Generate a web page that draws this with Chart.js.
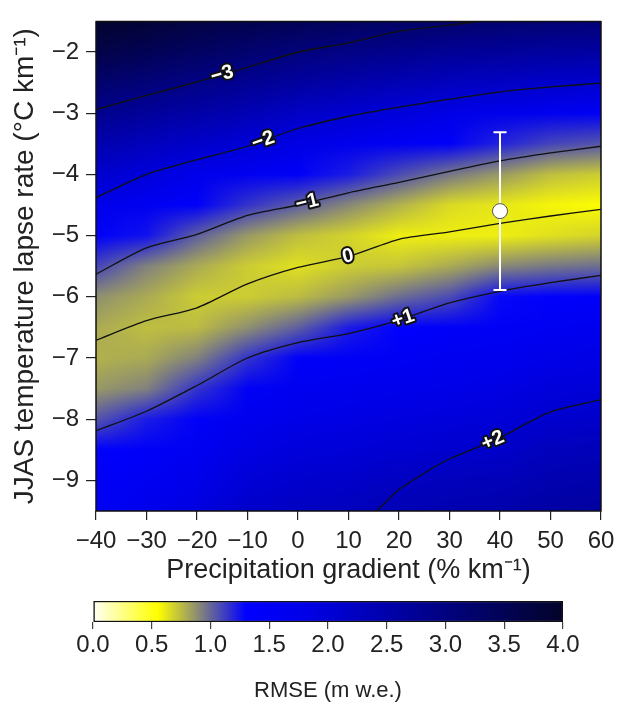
<!DOCTYPE html>
<html>
<head>
<meta charset="utf-8">
<script src="https://cdn.jsdelivr.net/npm/chart.js@4.4.1/dist/chart.umd.min.js"></script>
<style>
  body { margin: 0; background: #fff; }
  #wrap { position: relative; width: 622px; height: 704px; }
  canvas { position: absolute; left: 0; }
</style>
</head>
<body>
<div id="wrap">
  <canvas id="grafico" width="622" height="590" style="top:0"></canvas>
  <canvas id="barra" width="622" height="114" style="top:590px"></canvas>
</div>
<script>
// grade do RMSE: colunas = gradiente de precipitação, linhas = lapse rate
const gradX = [-40, -30, -20, -10, 0, 10, 20, 30, 40, 50, 60];
const lapseY = [-1.5, -2, -2.5, -3, -3.5, -4, -4.5, -5, -5.5, -6, -6.5, -7, -7.5, -8, -8.5, -9, -9.5];

// RMSE (m w.e.), uma linha por valor de lapseY
const rmse = [
  [3.95, 3.85, 3.70, 3.60, 3.50, 3.40, 3.30, 3.25, 3.20, 3.15, 3.10],
  [3.65, 3.50, 3.35, 3.20, 3.05, 2.95, 2.85, 2.75, 2.70, 2.65, 2.60],
  [3.25, 3.10, 2.95, 2.80, 2.65, 2.52, 2.40, 2.30, 2.22, 2.15, 2.10],
  [2.85, 2.70, 2.55, 2.40, 2.20, 2.08, 1.95, 1.82, 1.72, 1.62, 1.55],
  [2.50, 2.30, 2.15, 2.00, 1.85, 1.70, 1.55, 1.42, 1.20, 1.10, 1.05],
  [2.10, 1.95, 1.75, 1.60, 1.45, 1.22, 1.08, 0.95, 0.85, 0.74, 0.70],
  [1.75, 1.60, 1.40, 1.15, 1.03, 0.90, 0.78, 0.66, 0.62, 0.58, 0.56],
  [1.40, 1.25, 1.02, 0.85, 0.74, 0.68, 0.60, 0.60, 0.60, 0.64, 0.68],
  [1.10, 0.92, 0.80, 0.70, 0.64, 0.70, 0.72, 0.80, 0.90, 0.95, 0.98],
  [0.88, 0.80, 0.70, 0.70, 0.75, 0.85, 0.98, 1.08, 1.28, 1.35, 1.40],
  [0.80, 0.74, 0.75, 0.88, 1.02, 1.22, 1.32, 1.42, 1.50, 1.58, 1.65],
  [0.78, 0.80, 0.92, 1.15, 1.40, 1.48, 1.55, 1.62, 1.68, 1.78, 1.85],
  [0.85, 0.92, 1.15, 1.50, 1.62, 1.68, 1.73, 1.80, 1.85, 1.95, 2.00],
  [1.05, 1.22, 1.45, 1.68, 1.80, 1.85, 1.90, 1.95, 2.00, 2.10, 2.15],
  [1.30, 1.42, 1.60, 1.85, 1.95, 2.00, 2.05, 2.10, 2.15, 2.30, 2.35],
  [1.45, 1.58, 1.75, 2.00, 2.10, 2.15, 2.25, 2.30, 2.35, 2.45, 2.50],
  [1.55, 1.70, 1.90, 2.15, 2.25, 2.30, 2.40, 2.45, 2.50, 2.60, 2.65]
];

// isolinhas do viés (m w.e.)
const contornoM3X = [-40, -30, -20, -10, 0, 10, 20, 30, 36];
const contornoM3Y = [-2.94, -2.71, -2.49, -2.25, -2.0, -1.85, -1.66, -1.56, -1.5];
const contornoM2X = [-40, -30, -20, -10, 0, 10, 20, 30, 40, 50, 60];
const contornoM2Y = [-4.38, -4.0, -3.76, -3.54, -3.25, -3.05, -2.9, -2.77, -2.65, -2.57, -2.51];
const contornoM1X = [-40, -30, -20, -10, 0, 10, 20, 30, 40, 50, 60];
const contornoM1Y = [-5.63, -5.2, -4.98, -4.67, -4.5, -4.3, -4.13, -3.95, -3.78, -3.65, -3.54];
const contorno0X = [-40, -30, -20, -10, 0, 10, 20, 30, 40, 50, 60];
const contorno0Y = [-6.71, -6.39, -6.18, -5.79, -5.52, -5.34, -5.06, -4.94, -4.8, -4.68, -4.57];
const contornoP1X = [-40, -30, -20, -10, 0, 10, 20, 30, 40, 50, 60];
const contornoP1Y = [-8.19, -7.87, -7.45, -7.0, -6.75, -6.6, -6.38, -6.1, -5.91, -5.77, -5.65];
const contornoP2X = [15.6, 20, 26.8, 30, 40, 50, 60];
const contornoP2Y = [-9.5, -9.15, -8.79, -8.65, -8.3, -7.88, -7.68];

// rótulos das isolinhas
const rotuloTexto = ['\u22123', '\u22122', '\u22121', '0', '+1', '+2'];
const rotuloX = [-15, -6.9, 1.8, 9.9, 20.8, 38.6];
const rotuloY = [-2.37, -3.45, -4.46, -5.34, -6.36, -8.35];

// ponto observado com barra de erro
const obsX = 40;
const obsY = -4.6;
const erroTopo = -3.31;
const erroBase = -5.89;

// eixos
const ticksX = [-40, -30, -20, -10, 0, 10, 20, 30, 40, 50, 60];
const ticksY = [-9, -8, -7, -6, -5, -4, -3, -2];
const ticksBarra = [0, 0.5, 1, 1.5, 2, 2.5, 3, 3.5, 4];

// paleta de cores do RMSE
const paletaValor = [0, 0.55, 1.3, 1.8, 4.0];
const paletaCor = [[255, 255, 245], [255, 255, 0], [0, 0, 255], [0, 0, 232], [3, 3, 42]];

const fonte = '"Liberation Sans", Arial, Helvetica, sans-serif';
const corTexto = '#222';

function corDe(v) {
  if (v <= paletaValor[0]) return paletaCor[0];
  for (let i = 1; i < paletaValor.length; i++) {
    if (v <= paletaValor[i]) {
      const t = (v - paletaValor[i - 1]) / (paletaValor[i] - paletaValor[i - 1]);
      const a = paletaCor[i - 1], b = paletaCor[i];
      return [0, 1, 2].map(k => Math.round(a[k] + (b[k] - a[k]) * t));
    }
  }
  return paletaCor[paletaCor.length - 1];
}

function menos(v) {
  return v < 0 ? '\u2212' + Math.abs(v) : String(v);
}

// desenha a grade de RMSE por baixo das isolinhas
const mapaCalor = {
  id: 'mapaCalor',
  beforeDatasetsDraw(chart) {
    const { ctx, chartArea, scales: { x, y } } = chart;
    const off = document.createElement('canvas');
    off.width = gradX.length;
    off.height = lapseY.length;
    const octx = off.getContext('2d');
    const img = octx.createImageData(off.width, off.height);
    rmse.forEach((linha, j) => linha.forEach((v, i) => {
      const c = corDe(v);
      const k = (j * off.width + i) * 4;
      img.data[k] = c[0];
      img.data[k + 1] = c[1];
      img.data[k + 2] = c[2];
      img.data[k + 3] = 255;
    }));
    octx.putImageData(img, 0, 0);

    const dx = (gradX[1] - gradX[0]) / 2;
    const dy = (lapseY[0] - lapseY[1]) / 2;
    const x0 = x.getPixelForValue(gradX[0] - dx);
    const x1 = x.getPixelForValue(gradX[gradX.length - 1] + dx);
    const y0 = y.getPixelForValue(lapseY[0] + dy);
    const y1 = y.getPixelForValue(lapseY[lapseY.length - 1] - dy);

    ctx.save();
    ctx.beginPath();
    ctx.rect(chartArea.left, chartArea.top, chartArea.width, chartArea.height);
    ctx.clip();
    ctx.imageSmoothingEnabled = true;
    ctx.imageSmoothingQuality = 'medium';
    ctx.drawImage(off, x0, y0, x1 - x0, y1 - y0);
    ctx.restore();
  }
};

const contornos = [
  [contornoM3X, contornoM3Y], [contornoM2X, contornoM2Y], [contornoM1X, contornoM1Y],
  [contorno0X, contorno0Y], [contornoP1X, contornoP1Y], [contornoP2X, contornoP2Y]
];

// rótulos das isolinhas e moldura
const rotulos = {
  id: 'rotulos',
  afterDatasetsDraw(chart) {
    const { ctx, chartArea, scales: { x, y } } = chart;
    ctx.save();
    ctx.font = 'bold 20px ' + fonte;
    ctx.textAlign = 'center';
    ctx.textBaseline = 'middle';
    ctx.lineJoin = 'round';
    rotuloTexto.forEach((t, k) => {
      const [cx, cy] = contornos[k];
      let i = cx.findIndex(v => v >= rotuloX[k]);
      if (i < 1) i = 1;
      const ang = Math.atan2(
        y.getPixelForValue(cy[i]) - y.getPixelForValue(cy[i - 1]),
        x.getPixelForValue(cx[i]) - x.getPixelForValue(cx[i - 1])
      );
      ctx.save();
      ctx.translate(x.getPixelForValue(rotuloX[k]), y.getPixelForValue(rotuloY[k]));
      ctx.rotate(ang);
      ctx.lineWidth = 4;
      ctx.strokeStyle = '#111';
      ctx.strokeText(t, 0, 0);
      ctx.fillStyle = '#fff';
      ctx.fillText(t, 0, 0);
      ctx.restore();
    });
    ctx.strokeStyle = '#111';
    ctx.lineWidth = 1.5;
    ctx.strokeRect(chartArea.left, chartArea.top, chartArea.width, chartArea.height);
    ctx.restore();
  }
};

const datasetsContorno = contornos.map(([cx, cy], k) => ({
  label: rotuloTexto[k],
  data: cx.map((v, i) => ({ x: v, y: cy[i] })),
  showLine: true,
  borderColor: '#111',
  borderWidth: 1.3,
  pointRadius: 0,
  tension: 0.25,
  order: 2
}));

new Chart(document.getElementById('grafico'), {
  type: 'scatter',
  data: {
    datasets: [
      {
        label: 'observado',
        data: [{ x: obsX, y: obsY }],
        pointRadius: 7.5,
        pointBackgroundColor: '#fff',
        pointBorderColor: '#555',
        pointBorderWidth: 1,
        order: 0
      },
      {
        label: 'erro',
        data: [{ x: obsX, y: erroTopo }, { x: obsX, y: erroBase }],
        showLine: true,
        borderColor: '#fff',
        borderWidth: 2,
        pointStyle: 'line',
        pointRadius: 6.5,
        pointBorderColor: '#fff',
        pointBorderWidth: 2,
        order: 1
      },
      ...datasetsContorno
    ]
  },
  options: {
    responsive: false,
    animation: false,
    events: [],
    layout: { padding: { top: 13, right: 21, left: 0, bottom: 0 } },
    plugins: { legend: { display: false }, tooltip: { enabled: false } },
    scales: {
      x: {
        type: 'linear',
        min: -40,
        max: 60,
        afterBuildTicks: s => { s.ticks = ticksX.map(v => ({ value: v })); },
        afterFit: s => { s.height = 79; },
        ticks: { callback: v => menos(v), font: { family: fonte, size: 24 }, color: corTexto, padding: 7, maxRotation: 0, autoSkip: false },
        grid: { drawOnChartArea: false, drawTicks: true, tickLength: 9, color: '#222', lineWidth: 1.2 },
        border: { display: false },
        title: { display: true, text: 'Precipitation gradient (% km\u207B\u00B9)', font: { family: fonte, size: 27 }, color: corTexto, padding: { top: 0, bottom: 3 } }
      },
      y: {
        type: 'linear',
        min: -9.5,
        max: -1.5,
        afterBuildTicks: s => { s.ticks = ticksY.map(v => ({ value: v })); },
        afterFit: s => { s.width = 96; },
        ticks: { callback: v => menos(v), font: { family: fonte, size: 24 }, color: corTexto, padding: 7, autoSkip: false },
        grid: { drawOnChartArea: false, drawTicks: true, tickLength: 10, color: '#222', lineWidth: 1.2 },
        border: { display: false },
        title: { display: true, text: 'JJAS temperature lapse rate (\u00B0C km\u207B\u00B9)', font: { family: fonte, size: 28 }, color: corTexto, padding: { top: 8, bottom: 0 } }
      }
    }
  },
  plugins: [mapaCalor, rotulos]
});

// barra de cores
new Chart(document.getElementById('barra'), {
  type: 'bar',
  data: {
    labels: ['RMSE'],
    datasets: [{
      data: [[ticksBarra[0], ticksBarra[ticksBarra.length - 1]]],
      backgroundColor: c => {
        const ch = c.chart;
        if (!ch.chartArea) return '#00f';
        const sx = ch.scales.x;
        const a = ticksBarra[0], b = ticksBarra[ticksBarra.length - 1];
        const g = ch.ctx.createLinearGradient(sx.getPixelForValue(a), 0, sx.getPixelForValue(b), 0);
        paletaValor.forEach((v, i) => g.addColorStop((v - a) / (b - a), 'rgb(' + paletaCor[i].join(',') + ')'));
        return g;
      },
      borderColor: '#111',
      borderWidth: 1.5,
      borderSkipped: false,
      barPercentage: 1,
      categoryPercentage: 1
    }]
  },
  options: {
    indexAxis: 'y',
    responsive: false,
    animation: false,
    events: [],
    layout: { padding: { top: 11, left: 93, right: 59, bottom: 0 } },
    plugins: { legend: { display: false }, tooltip: { enabled: false } },
    scales: {
      x: {
        type: 'linear',
        min: 0,
        max: 4,
        afterBuildTicks: s => { s.ticks = ticksBarra.map(v => ({ value: v })); },
        afterFit: s => { s.height = 82; },
        ticks: { callback: v => v.toFixed(1), font: { family: fonte, size: 24 }, color: corTexto, padding: 2, maxRotation: 0, autoSkip: false },
        grid: { drawOnChartArea: false, drawTicks: true, tickLength: 7, color: '#444', lineWidth: 1.2 },
        border: { display: false },
        title: { display: true, text: 'RMSE (m w.e.)', font: { family: fonte, size: 22 }, color: corTexto, padding: { top: 0, bottom: 0 } }
      },
      y: { display: false }
    }
  }
});
</script>
</body>
</html>
